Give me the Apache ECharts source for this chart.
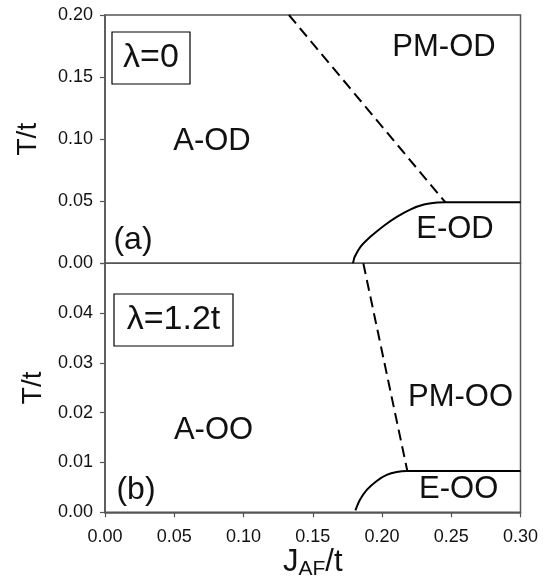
<!DOCTYPE html>
<html>
<head>
<meta charset="utf-8">
<script src="https://cdn.jsdelivr.net/npm/echarts@6/dist/echarts.min.js"></script>
<style>
html,body{margin:0;padding:0;background:#fff;}
#chart{width:544px;height:580px;}
</style>
</head>
<body>
<div id="chart"></div>
<script>
// ---- data ----
const xTicks = [0.00, 0.05, 0.10, 0.15, 0.20, 0.25, 0.30];
const yTicksA = [0.00, 0.05, 0.10, 0.15, 0.20];
const yTicksB = [0.00, 0.01, 0.02, 0.03, 0.04];

// panel (a), lambda = 0
const dashA_J = [0.1328, 0.2458];
const dashA_T = [0.200, 0.0490];
const solidA_J = [0.1790, 0.1793, 0.1803, 0.1846, 0.1918, 0.2014, 0.2110, 0.2207, 0.2303, 0.2399, 0.2460, 0.3000];
const solidA_T = [0.0000, 0.0013, 0.0053, 0.0134, 0.0215, 0.0303, 0.0376, 0.0435, 0.0473, 0.0489, 0.0491, 0.0491];

// panel (b), lambda = 1.2t
const dashB_J = [0.1865, 0.2183];
const dashB_T = [0.0500, 0.0083];
const solidB_J = [0.1808, 0.1841, 0.1890, 0.1962, 0.2034, 0.2106, 0.2178, 0.3000];
const solidB_T = [0.0004, 0.0025, 0.0045, 0.0063, 0.0075, 0.0081, 0.0083, 0.0083];

const zip = (a, b) => a.map((v, i) => [v, b[i]]);

const FONT = '"Liberation Sans", Arial, Helvetica, sans-serif';
const frame = '#555';
const txt = '#111';

const chart = echarts.init(document.getElementById('chart'), null, {renderer: 'canvas'});

const yAxisCommon = {
  type: 'value',
  splitLine: {show: false},
  axisLine: {show: true, lineStyle: {color: frame, width: 1.5}},
  axisTick: {show: true, inside: false, length: 5, lineStyle: {color: frame, width: 1.2}},
  axisLabel: {color: txt, fontSize: 18, fontFamily: FONT, margin: 12},
  nameLocation: 'middle',
  nameTextStyle: {color: txt, fontSize: 28, fontFamily: FONT},
  name: 'T/t'
};

const option = {
  animation: false,
  backgroundColor: '#fff',
  grid: [
    {left: 105, right: 23.5, top: 15, height: 248.3, show: true, borderColor: frame, borderWidth: 1.5,
      backgroundColor: 'transparent', containLabel: false, outerBoundsMode: 'none'},
    {left: 105, right: 23.5, top: 263.3, height: 249, show: true, borderColor: frame, borderWidth: 1.5,
      backgroundColor: 'transparent', containLabel: false, outerBoundsMode: 'none'}
  ],
  xAxis: [
    {gridIndex: 0, type: 'value', min: xTicks[0], max: xTicks[xTicks.length - 1], interval: 0.05,
      axisLine: {show: false}, axisTick: {show: false}, axisLabel: {show: false}, splitLine: {show: false}},
    {gridIndex: 1, type: 'value', min: xTicks[0], max: xTicks[xTicks.length - 1], interval: 0.05,
      splitLine: {show: false},
      axisLine: {show: true, lineStyle: {color: frame, width: 1.5}},
      axisTick: {show: true, inside: false, length: 5, lineStyle: {color: frame, width: 1.2}},
      axisLabel: {color: txt, fontSize: 18, fontFamily: FONT, margin: 16, formatter: v => v.toFixed(2)},
      name: '{j|J}{s|AF}{j|/t}',
      nameLocation: 'middle',
      nameGap: 35,
      nameTextStyle: {
        fontFamily: FONT, color: txt,
        rich: {
          j: {fontSize: 31, fontFamily: FONT, color: txt, lineHeight: 32, verticalAlign: 'top'},
          s: {fontSize: 21, fontFamily: FONT, color: txt, lineHeight: 22, verticalAlign: 'bottom'}
        }
      }
    }
  ],
  yAxis: [
    Object.assign({}, yAxisCommon, {gridIndex: 0, min: yTicksA[0], max: yTicksA[yTicksA.length - 1], interval: 0.05,
      nameGap: 63, axisLabel: Object.assign({}, yAxisCommon.axisLabel, {formatter: v => v.toFixed(2)})}),
    Object.assign({}, yAxisCommon, {gridIndex: 1, min: yTicksB[0], max: 0.05, interval: 0.01,
      nameGap: 55, axisLabel: Object.assign({}, yAxisCommon.axisLabel, {formatter: v => (v > yTicksB[yTicksB.length - 1] + 1e-9 ? '' : v.toFixed(2))})})
  ],
  series: [
    {type: 'line', xAxisIndex: 0, yAxisIndex: 0, data: zip(dashA_J, dashA_T), symbol: 'none',
      lineStyle: {color: '#000', width: 2, type: [11, 6]}},
    {type: 'line', xAxisIndex: 0, yAxisIndex: 0, data: zip(solidA_J, solidA_T), symbol: 'none', smooth: 0.3,
      lineStyle: {color: '#000', width: 2}},
    {type: 'line', xAxisIndex: 1, yAxisIndex: 1, data: zip(dashB_J, dashB_T), symbol: 'none',
      lineStyle: {color: '#000', width: 2, type: [11, 6]}},
    {type: 'line', xAxisIndex: 1, yAxisIndex: 1, data: zip(solidB_J, solidB_T), symbol: 'none', smooth: 0.3,
      lineStyle: {color: '#000', width: 2}}
  ],
  graphic: [
    {type: 'rect', shape: {x: 112, y: 32, width: 78, height: 52}, style: {fill: 'none', stroke: '#000', lineWidth: 1.2}},
    {type: 'text', x: 151, y: 58, style: {text: 'λ=0', align: 'center', verticalAlign: 'middle', fontSize: 34, fontFamily: FONT, fill: txt}},
    {type: 'text', x: 212, y: 141, style: {text: 'A-OD', align: 'center', verticalAlign: 'middle', fontSize: 31, fontFamily: FONT, fill: txt}},
    {type: 'text', x: 133, y: 240, style: {text: '(a)', align: 'center', verticalAlign: 'middle', fontSize: 32, fontFamily: FONT, fill: txt}},
    {type: 'text', x: 444, y: 47, style: {text: 'PM-OD', align: 'center', verticalAlign: 'middle', fontSize: 31, fontFamily: FONT, fill: txt}},
    {type: 'text', x: 455, y: 229, style: {text: 'E-OD', align: 'center', verticalAlign: 'middle', fontSize: 31, fontFamily: FONT, fill: txt}},
    {type: 'rect', shape: {x: 114, y: 294, width: 119, height: 52}, style: {fill: 'none', stroke: '#000', lineWidth: 1.2}},
    {type: 'text', x: 173.5, y: 320, style: {text: 'λ=1.2t', align: 'center', verticalAlign: 'middle', fontSize: 34, fontFamily: FONT, fill: txt}},
    {type: 'text', x: 213.5, y: 430, style: {text: 'A-OO', align: 'center', verticalAlign: 'middle', fontSize: 31, fontFamily: FONT, fill: txt}},
    {type: 'text', x: 136, y: 490, style: {text: '(b)', align: 'center', verticalAlign: 'middle', fontSize: 32, fontFamily: FONT, fill: txt}},
    {type: 'text', x: 460.5, y: 397, style: {text: 'PM-OO', align: 'center', verticalAlign: 'middle', fontSize: 31, fontFamily: FONT, fill: txt}},
    {type: 'text', x: 458.7, y: 489, style: {text: 'E-OO', align: 'center', verticalAlign: 'middle', fontSize: 31, fontFamily: FONT, fill: txt}}
  ]
};
chart.setOption(option);
</script>
</body>
</html>
